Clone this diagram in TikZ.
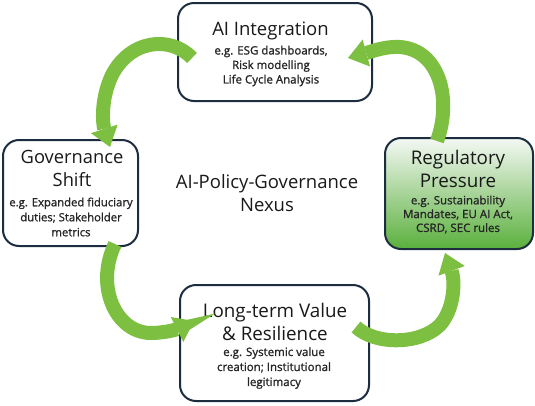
\documentclass[tikz,border=0pt]{standalone}
\usepackage{fontspec}
\setmainfont{Open Sans}
\newfontfamily\detfont[FakeBold=1.2]{Open Sans}
\usetikzlibrary{arrows.meta,calc}
\definecolor{navy}{HTML}{1C2D40}
\definecolor{arrowgreen}{HTML}{7DBF40}
\definecolor{regtop}{HTML}{F4F8F4}
\definecolor{regbot}{HTML}{5AB03C}
\begin{document}
\begin{tikzpicture}[x=1pt,y=-1pt,
  box/.style={draw=navy,line width=2pt,rounded corners=16pt,fill=white},
  ttl/.style={font=\fontsize{18.8}{23}\selectfont,align=center,text=black!90,inner sep=0pt},
  det/.style={font=\detfont\fontsize{11.5}{14.5}\selectfont,align=center,text=black!85,inner sep=0pt},
  flow/.style={draw=arrowgreen,line width=14pt,-{Triangle[width=28pt,length=19pt,line width=0pt]}}]
\useasboundingbox (0,0) rectangle (535,405);
% boxes
\node[box,minimum width=194pt,minimum height=98pt] (ai) at (275,52) {};
\node[box,minimum width=135pt,minimum height=106pt] (gov) at (70.5,193) {};
\node[box,top color=regtop,bottom color=regbot,minimum width=148pt,minimum height=111pt] (reg) at (459,193.5) {};
\node[box,minimum width=189pt,minimum height=116pt] (ltv) at (274.5,343) {};
% texts
\node[ttl,font=\fontsize{18.5}{23}\selectfont] (aiT) at (270.5,31) {AI Integration};
\node[det] (aiD) at (271,66) {e.g. ESG dashboards,\\Risk modelling\\Life Cycle Analysis};
\node[ttl,font=\fontsize{18.3}{23}\selectfont] (govT) at (72,168.5) {Governance\\Shift};
\node[det,font=\detfont\fontsize{11.3}{15}\selectfont] (govD) at (71,217) {e.g. Expanded fiduciary\\duties; Stakeholder\\metrics};
\node[ttl] (regT) at (458,168.5) {Regulatory\\Pressure};
\node[det,font=\detfont\fontsize{11.5}{13.8}\selectfont] (regD) at (458,214.5) {e.g. Sustainability\\Mandates, EU AI Act,\\CSRD, SEC rules};
\node[ttl] (ltvT) at (275,321.5) {Long-term Value\\\& Resilience};
\node[det,font=\detfont\fontsize{11.5}{15}\selectfont] (ltvD) at (274,368) {e.g. Systemic value\\creation; Institutional\\legitimacy};
\node[ttl,font=\fontsize{18.5}{23}\selectfont] (nexus) at (267,193.5) {AI-Policy-Governance\\Nexus};
% arrows
\draw[flow] ($(reg.north)+(-22,4)$) .. controls (452,100) and (440,50) .. (400,47)
   .. controls (385,46) and (370,52) .. ($(ai.east)+(-25,6)$);
\draw[flow] ($(ai.west)+(15,6)$) .. controls (170,35) and (130,40) .. (112,75)
   .. controls (100,100) and (103,125) .. ($(gov.north)+(39.5,8)$);
\draw[flow] ($(gov.south)+(44.5,-3)$) .. controls (95,285) and (115,332) .. (150,333)
   .. controls (168,333) and (180,328) .. ($(ltv.west)+(15,-22)$);
\draw[flow] ($(ltv.east)+(-14,-16)$) .. controls (375,345) and (420,345) .. (440,325)
   .. controls (455,308) and (455,280) .. ($(reg.south)+(-14,3)$);
\end{tikzpicture}
\end{document}
